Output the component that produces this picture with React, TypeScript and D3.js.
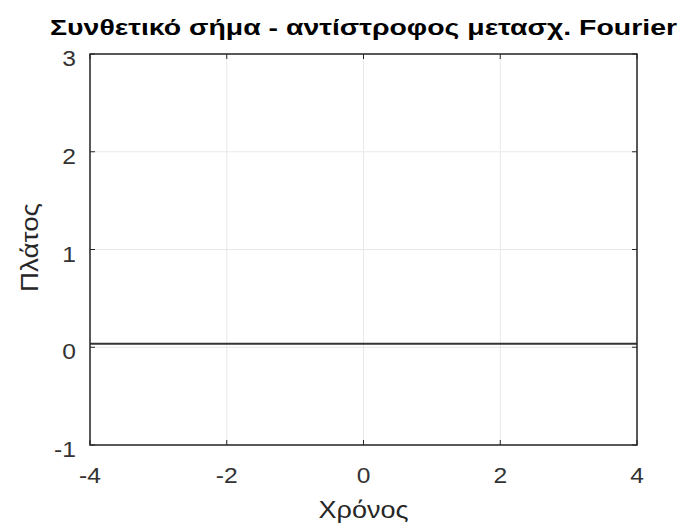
import React from "react";
import { scaleLinear, line } from "d3";

// signal samples (flat, slightly above zero)
const timeValues = [-4, 4];
const amplitudeValues = [0.035, 0.035];

const xTicks = [-4, -2, 0, 2, 4];
const yTicks = [-1, 0, 1, 2, 3];

const titleText = "Συνθετικό σήμα - αντίστροφος μετασχ. Fourier";
const xLabelText = "Χρόνος";
const yLabelText = "Πλάτος";

const W = 680;
const H = 530;
const m = { left: 90, right: 43, top: 54, bottom: 85 };
const font = "'Liberation Sans', Arial, Helvetica, sans-serif";
const stretch = 1.12; // tick glyphs are a bit wider than Liberation Sans

export default function App() {
  const x = scaleLinear().domain([-4, 4]).range([m.left, W - m.right]);
  const y = scaleLinear().domain([-1, 3]).range([H - m.bottom, m.top]);
  const pts = timeValues.map((t, i) => [t, amplitudeValues[i]] as [number, number]);
  const path = line<[number, number]>()
    .x((d) => x(d[0]))
    .y((d) => y(d[1]))(pts);

  const x0 = x(-4), x1 = x(4), y0 = y(-1), y1 = y(3);
  const tickLen = 5;

  return (
    <svg width={W} height={H} style={{ position: "absolute", left: 0, top: 0, background: "#fff" }}>
      {/* grid */}
      {xTicks.map((t) => (
        <line key={"gx" + t} x1={x(t)} x2={x(t)} y1={y1} y2={y0} stroke="#e8e8e8" strokeWidth={1} />
      ))}
      {yTicks.map((t) => (
        <line key={"gy" + t} x1={x0} x2={x1} y1={y(t)} y2={y(t)} stroke="#e8e8e8" strokeWidth={1} />
      ))}
      {/* data */}
      <path d={path ?? ""} fill="none" stroke="#333" strokeWidth={2} />
      {/* box */}
      <rect x={x0} y={y1} width={x1 - x0} height={y0 - y1} fill="none" stroke="#262626" strokeWidth={1.5} />
      {/* ticks */}
      {xTicks.map((t) => (
        <g key={"tx" + t}>
          <line x1={x(t)} x2={x(t)} y1={y0} y2={y0 - tickLen} stroke="#262626" />
          <line x1={x(t)} x2={x(t)} y1={y1} y2={y1 + tickLen} stroke="#262626" />
          <text
            transform={`translate(${x(t)},${y0 + 38}) scale(${stretch},1)`}
            textAnchor="middle"
            fontFamily={font}
            fontSize={22}
            fill="#333"
          >
            {t}
          </text>
        </g>
      ))}
      {yTicks.map((t) => (
        <g key={"ty" + t}>
          <line x1={x0} x2={x0 + tickLen} y1={y(t)} y2={y(t)} stroke="#262626" />
          <line x1={x1} x2={x1 - tickLen} y1={y(t)} y2={y(t)} stroke="#262626" />
          <text
            transform={`translate(${x0 - 14},${y(t) + 12}) scale(${stretch},1)`}
            textAnchor="end"
            fontFamily={font}
            fontSize={22}
            fill="#333"
          >
            {t}
          </text>
        </g>
      ))}
      {/* labels */}
      <text
        x={363.5}
        y={35}
        textAnchor="middle"
        fontFamily={font}
        fontSize={22}
        fontWeight="bold"
        fill="#000"
        textLength={627}
        lengthAdjust="spacingAndGlyphs"
      >
        {titleText}
      </text>
      <text
        x={(x0 + x1) / 2}
        y={518}
        textAnchor="middle"
        fontFamily={font}
        fontSize={23}
        fill="#262626"
        textLength={90}
        lengthAdjust="spacingAndGlyphs"
      >
        {xLabelText}
      </text>
      <text
        transform={`translate(${38},${247.5}) rotate(-90)`}
        textAnchor="middle"
        fontFamily={font}
        fontSize={23}
        fill="#262626"
        textLength={89}
        lengthAdjust="spacingAndGlyphs"
      >
        {yLabelText}
      </text>
    </svg>
  );
}
